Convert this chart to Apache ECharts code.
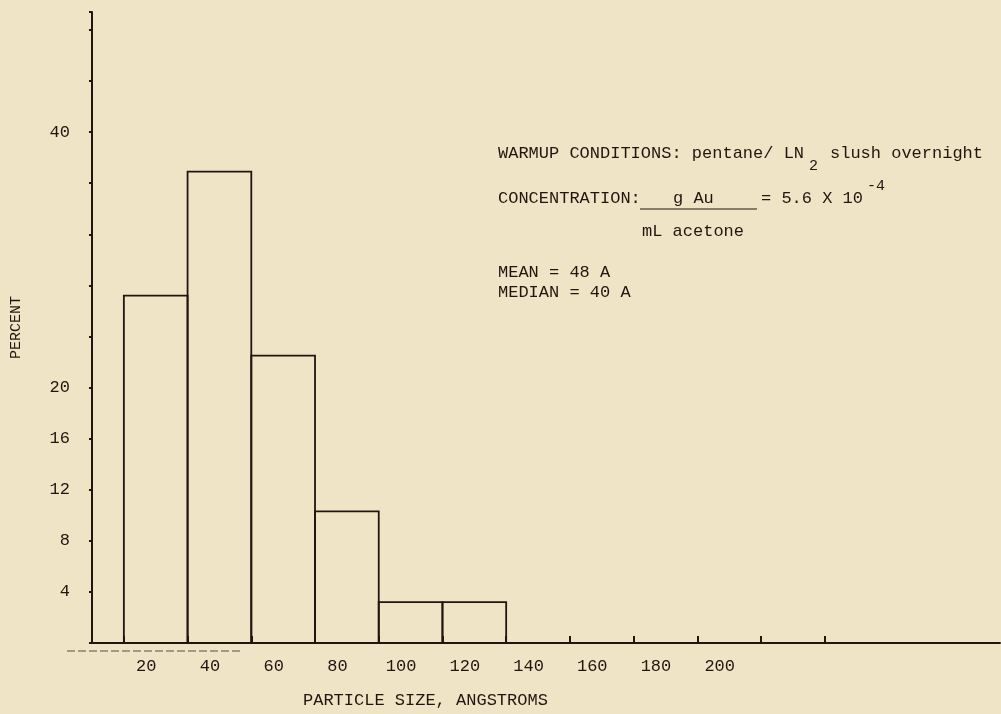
<!DOCTYPE html>
<html>
<head>
<meta charset="utf-8">
<script src="https://cdn.jsdelivr.net/npm/echarts@6/dist/echarts.min.js"></script>
<style>
html,body{margin:0;padding:0;background:#f0e4c7;}
#charts{width:1001px;height:714px;}
</style>
</head>
<body>
<div id="charts"></div>
<script>
//粒径分布数据 (bin centre, percent)
var sizes = [20, 40, 60, 80, 100, 120];
var percents = [27.2, 36.9, 22.5, 10.3, 3.2, 3.2];
var binWidth = 20;
//坐标轴刻度
var xLabels = [20, 40, 60, 80, 100, 120, 140, 160, 180, 200];
var xTicks = [10, 30, 50, 70, 90, 110, 130, 150, 170, 190, 210, 230];
var yLabels = [4, 8, 12, 16, 20, 40];

var ink = '#22150f';
var font = '17px "Liberation Mono", "DejaVu Sans Mono", monospace';

var data = [];
for (var i = 0; i < sizes.length; i++) {
	data.push([sizes[i], percents[i]]);
}

function txt(text, x, y){
	return {
		type: 'text', x: x, y: y,
		style: {text: text, font: font, fill: ink, verticalAlign: 'middle'}
	};
}

var charts = echarts.init(document.getElementById('charts'));
var option = {
	backgroundColor: '#f0e4c7',
	animation: false,
	grid: {left: 92, right: 1, top: 12, bottom: 71, containLabel: false, outerBoundsMode: 'none'},
	textStyle: {fontFamily: '"Liberation Mono", "DejaVu Sans Mono", monospace'},
	xAxis: {
		type: 'value',
		min: 0,
		max: 285,
		axisLine: {lineStyle: {color: ink, width: 2}},
		axisTick: {customValues: xTicks, inside: true, length: 7, lineStyle: {color: ink, width: 2}},
		axisLabel: {customValues: xLabels, color: ink, fontSize: 17, margin: 15, padding: [0, 19, 0, 0]},
		splitLine: {show: false}
	},
	yAxis: {
		type: 'value',
		min: 0,
		max: 49.4,
		interval: 4,
		name: 'PERCENT',
		nameLocation: 'middle',
		nameGap: 68,
		nameRotate: 90,
		nameTextStyle: {color: ink, fontSize: 15},
		axisLine: {lineStyle: {color: ink, width: 2}},
		axisTick: {length: 3, lineStyle: {color: ink, width: 2}},
		axisLabel: {customValues: yLabels, color: ink, fontSize: 17, margin: 22},
		splitLine: {show: false}
	},
	series: [{
		type: 'custom',
		data: data,
		renderItem: function(params, api){
			var x = api.value(0), h = api.value(1);
			var p0 = api.coord([x - binWidth / 2, 0]);
			var p1 = api.coord([x + binWidth / 2, h]);
			return {
				type: 'rect',
				shape: {x: p0[0], y: p1[1], width: p1[0] - p0[0], height: p0[1] - p1[1]},
				style: {fill: 'none', stroke: ink, lineWidth: 1.8}
			};
		}
	}],
	graphic: [
		txt('WARMUP CONDITIONS: pentane/ LN', 498, 153),
		{type: 'text', x: 809, y: 166, style: {text: '2', font: '15px "Liberation Mono", monospace', fill: ink, verticalAlign: 'middle'}},
		txt('slush overnight', 830, 153),
		txt('CONCENTRATION:', 498, 198),
		{type: 'line', shape: {x1: 640, y1: 209, x2: 757, y2: 209}, style: {stroke: ink, lineWidth: 1.2}},
		txt('g Au', 673, 198),
		txt('= 5.6 X 10', 761, 198),
		{type: 'text', x: 867, y: 186, style: {text: '-4', font: '15px "Liberation Mono", monospace', fill: ink, verticalAlign: 'middle'}},
		txt('mL acetone', 642, 231),
		txt('MEAN = 48 A', 498, 272),
		txt('MEDIAN = 40 A', 498, 292),
		txt('PARTICLE SIZE, ANGSTROMS', 303, 700),
		{type: 'line', shape: {x1: 67, y1: 651, x2: 240, y2: 651}, style: {stroke: '#5a4a40', lineWidth: 1.2, lineDash: [8, 3]}}
	]
};
charts.setOption(option);
</script>
</body>
</html>
